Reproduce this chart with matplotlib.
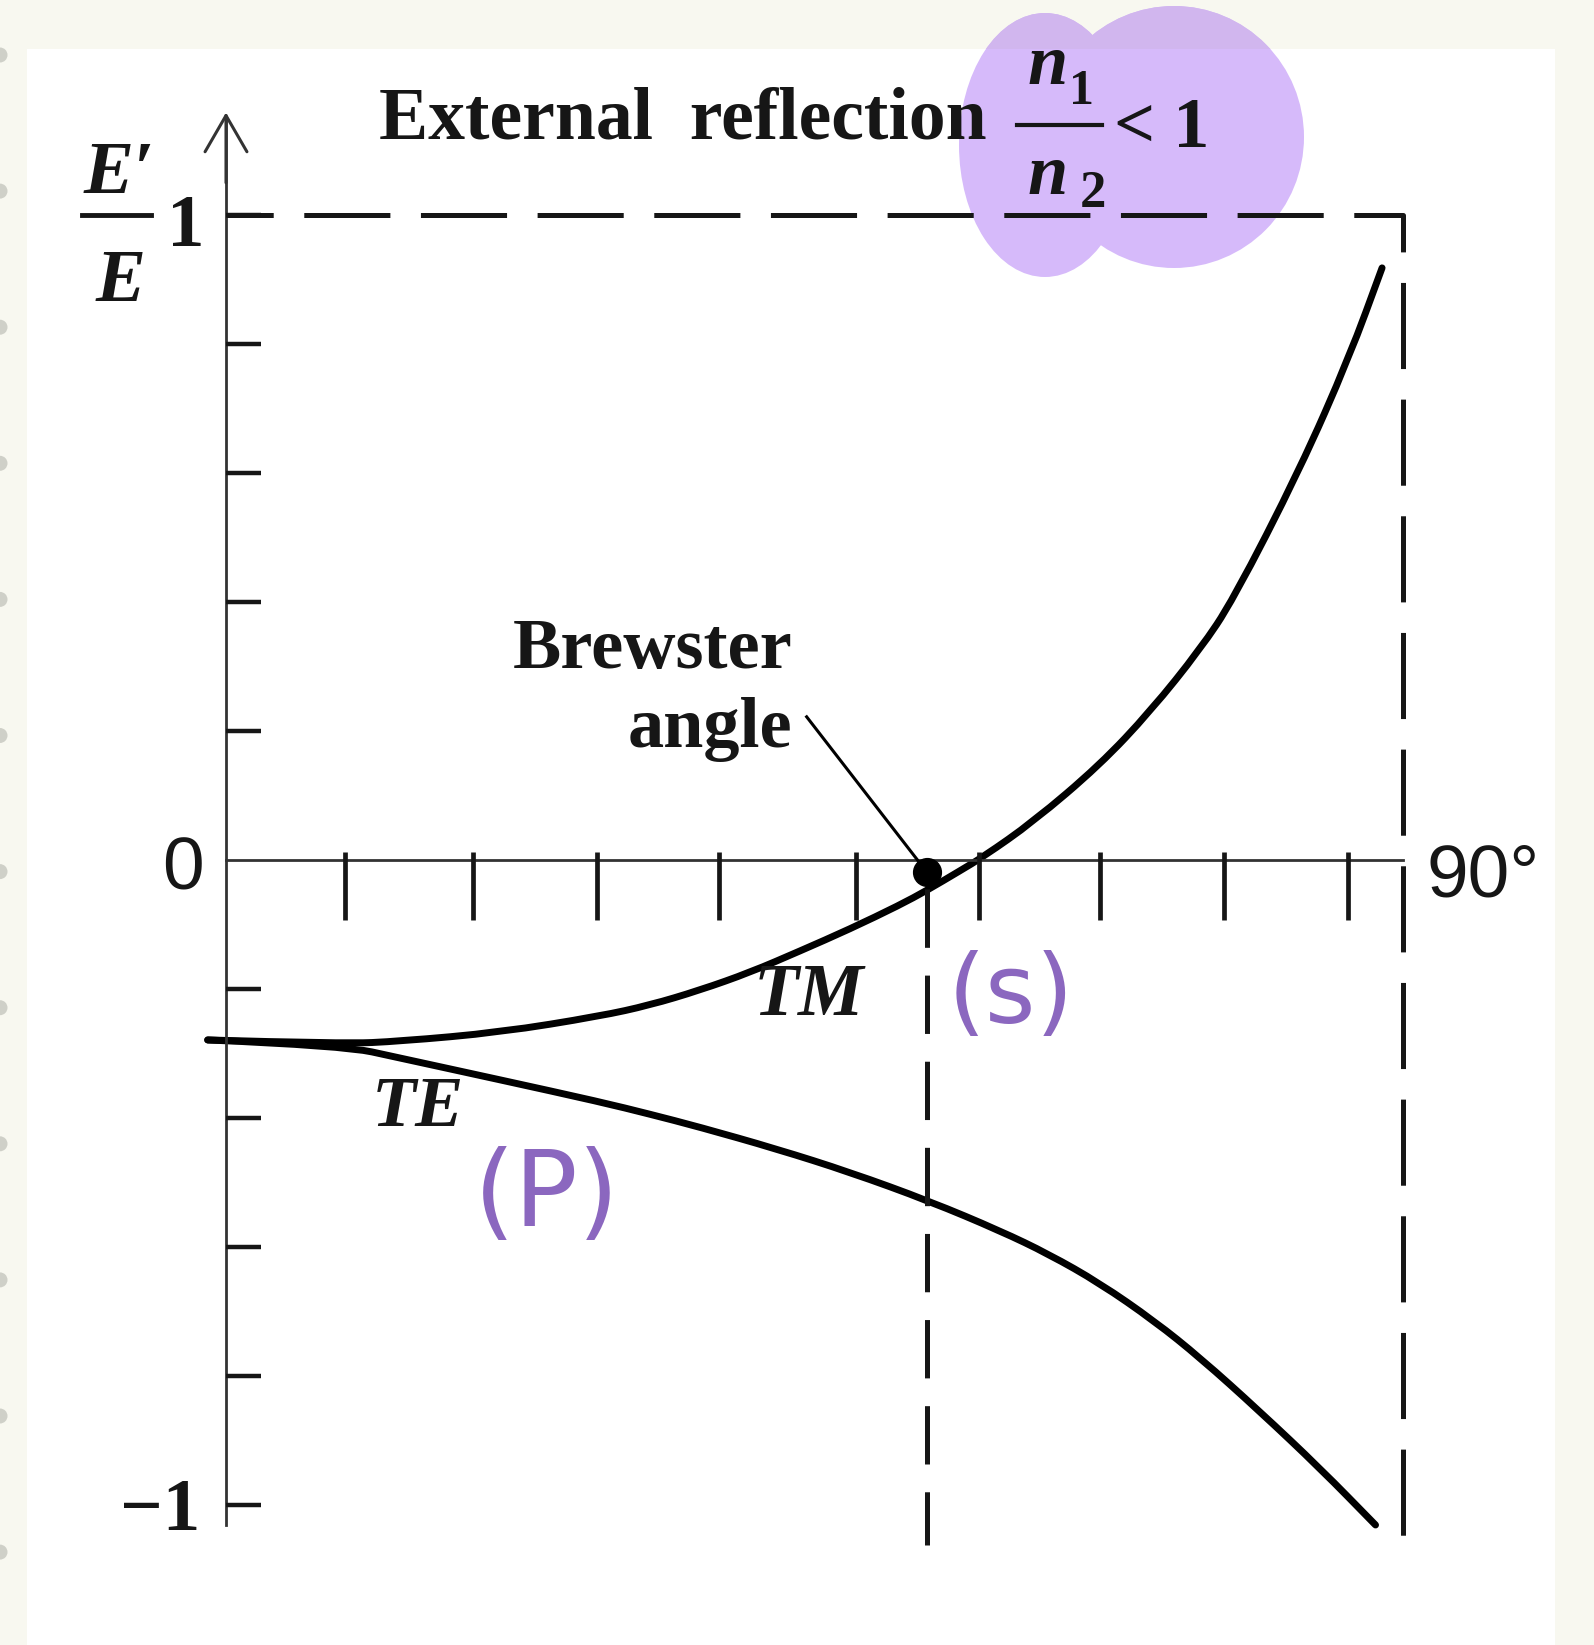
import matplotlib
matplotlib.use("Agg")
import matplotlib.pyplot as plt
from matplotlib.patches import Rectangle, Ellipse, PathPatch
from matplotlib.path import Path

plt.rcParams['lines.scale_dashes'] = False

# reflection amplitude E'/E against angle of incidence (degrees), n1/n2 < 1
tm_angle = [-1.4, 9.0, 13.3, 21.0, 28.6, 32.4, 36.2, 40.1, 43.9, 47.7, 51.5,
            53.6, 56.1, 57.9, 61.7, 66.8, 70.7, 74.5, 77.0, 82.1, 85.9, 88.4]
tm_ratio = [-0.279, -0.285, -0.281, -0.267, -0.242, -0.225, -0.202, -0.174,
            -0.141, -0.107, -0.070, -0.047, -0.017, 0.005, 0.059, 0.147,
            0.231, 0.327, 0.403, 0.605, 0.780, 0.918]

te_angle = [-1.4, 9.0, 13.3, 21.0, 28.6, 32.4, 36.2, 42.1, 47.7, 53.8, 59.2,
            62.9, 66.8, 71.0, 74.5, 79.0, 83.7, 87.9]
te_ratio = [-0.279, -0.288, -0.307, -0.341, -0.375, -0.394, -0.414, -0.448,
            -0.484, -0.529, -0.575, -0.611, -0.656, -0.715, -0.772, -0.854,
            -0.944, -1.031]

brewster_angle = 53.6
brewster_ratio = -0.019
grazing_angle = 90

x_ticks = [9.1, 18.9, 28.4, 37.7, 48.2, 57.6, 66.8, 76.3, 85.8]
y_ticks = [1, 0.8, 0.6, 0.4, 0.2, -0.2, -0.4, -0.6, -0.8, -1]

W, H = 1594, 1645
INK = '#161616'
PURPLE = '#8b67bf'
SERIF = ['Liberation Serif', 'DejaVu Serif']
SANS = ['Liberation Sans', 'DejaVu Sans']


def curve_patch(xs, ys, **kw):
    # quadratic bezier through the midpoints, so the pen line has no corners
    verts = [(xs[0], ys[0])]
    codes = [Path.MOVETO]
    for i in range(1, len(xs) - 1):
        verts += [(xs[i], ys[i]), ((xs[i] + xs[i + 1]) / 2, (ys[i] + ys[i + 1]) / 2)]
        codes += [Path.CURVE3, Path.CURVE3]
    verts.append((xs[-1], ys[-1]))
    codes.append(Path.LINETO)
    return PathPatch(Path(verts, codes), fill=False, **kw)


fig = plt.figure(figsize=(W / 100, H / 100), dpi=100)
fig.patch.set_facecolor('#f8f8f0')

# white page with the punched holes of the notebook along the left edge
page = Rectangle((27 / W, 0), 1528 / W, 1 - 49 / H, transform=fig.transFigure,
                 facecolor='white', edgecolor='none', zorder=0.5)
fig.patches.append(page)
for k in range(12):
    yc = 55 + 136.1 * k
    fig.patches.append(Ellipse((0, 1 - yc / H), 15 / W, 15 / H,
                               transform=fig.transFigure, facecolor='#cfd0c8',
                               edgecolor='none', zorder=0.6))

# highlighter blob over the index ratio
strip = Rectangle((0, 1 - 49 / H), 1, 49 / H, transform=fig.transFigure)
for (cx, cy, ew, eh) in [(1045, 145, 172, 264), (1174, 137, 260, 262)]:
    blob = Ellipse((cx / W, 1 - cy / H), ew / W, eh / H, transform=fig.transFigure,
                   facecolor='#d6bafa', edgecolor='none', zorder=1)
    fig.patches.append(blob)
    top = Ellipse((cx / W, 1 - cy / H), ew / W, eh / H, transform=fig.transFigure,
                  facecolor='#d1b6ee', edgecolor='none', zorder=1.1)
    top.set_clip_path(strip)
    fig.patches.append(top)

ax = fig.add_axes([226 / W, 1 - 1505 / H, 1177 / W, 1290 / H])
ax.set_xlim(0, 90)
ax.set_ylim(-1, 1)
ax.axis('off')
ax.set_zorder(2)
ax.patch.set_visible(False)

# axes drawn by hand
ax.plot([0, grazing_angle], [0, 0], color='#333333', lw=2, clip_on=False)
ax.plot([0, 0], [-1.031, 1.15], color='#333333', lw=2, clip_on=False)
ax.annotate('', xy=(0, 1.159), xytext=(0, 1.05),
            arrowprops=dict(arrowstyle='->,head_length=0.45,head_width=0.26',
                            mutation_scale=58, lw=2.2, color='#333333',
                            shrinkA=0, shrinkB=0),
            annotation_clip=False)
for v in y_ticks:
    ax.plot([0, 2.7], [v, v], color=INK, lw=3.2, solid_capstyle='butt', clip_on=False)
for a in x_ticks:
    ax.plot([a, a], [0.012, -0.093], color=INK, lw=3.4, solid_capstyle='butt',
            clip_on=False)

# limits |E'/E| = 1 and grazing incidence
ax.plot([0, grazing_angle, grazing_angle], [1, 1, -1.074], color=INK, lw=3.6,
        ls=(28, (62, 22)), clip_on=False)
ax.plot([brewster_angle, brewster_angle], [-0.045, -1.062], color=INK, lw=3.6,
        ls=(0, (42, 20)), clip_on=False)

ax.add_patch(curve_patch(tm_angle, tm_ratio, edgecolor='black', lw=5,
                         capstyle='round', clip_on=False))
ax.add_patch(curve_patch(te_angle, te_ratio, edgecolor='black', lw=5,
                         capstyle='round', clip_on=False))
ax.plot(brewster_angle, brewster_ratio, 'o', color='black', ms=20, clip_on=False)
ax.plot([44.4, brewster_angle], [0.222, brewster_ratio], color='black', lw=2.2,
        clip_on=False)

# labels
ax.text(11.7, 1.119, "External  reflection", family=SERIF, weight='bold',
        fontsize=53, ha='left', va='baseline', color=INK)
ax.text(62.8, 1.231, "n", family=SERIF, weight='bold', style='italic',
        fontsize=52, ha='center', va='center', color=INK)
ax.text(65.4, 1.190, "1", family=SERIF, weight='bold', fontsize=36,
        ha='center', va='center', color=INK)
ax.plot([60.5, 67.0], [1.140, 1.140], color=INK, lw=3, clip_on=False)
ax.text(62.8, 1.059, "n", family=SERIF, weight='bold', style='italic',
        fontsize=52, ha='center', va='center', color=INK)
ax.text(66.3, 1.033, "2", family=SERIF, weight='bold', fontsize=38,
        ha='center', va='center', color=INK)
ax.text(67.9, 1.105, "< 1", family=SERIF, weight='bold', fontsize=52,
        ha='left', va='baseline', color=INK)

ax.text(-8.2, 1.034, "E\u2032", family=SERIF, weight='bold', style='italic',
        fontsize=54, ha='center', va='baseline', color=INK)
ax.plot([-11.0, -5.7], [1.0, 1.0], color=INK, lw=3.5, clip_on=False)
ax.text(-8.1, 0.866, "E", family=SERIF, weight='bold', style='italic',
        fontsize=54, ha='center', va='baseline', color=INK)
ax.text(-3.1, 0.952, "1", family=SERIF, weight='bold', fontsize=54,
        ha='center', va='baseline', color=INK)
ax.text(-3.3, -0.045, "0", family=SANS, fontsize=54, ha='center', va='baseline',
        color=INK)
ax.text(-2.0, -1.038, "\u22121", family=SERIF, weight='bold', fontsize=54,
        ha='right', va='baseline', color=INK)
ax.text(91.8, -0.057, "90\u00b0", family=SANS, fontsize=54, ha='left',
        va='baseline', color=INK)

ax.text(43.3, 0.298, "Brewster", family=SERIF, weight='bold', fontsize=52,
        ha='right', va='baseline', color=INK)
ax.text(43.3, 0.175, "angle", family=SERIF, weight='bold', fontsize=52,
        ha='right', va='baseline', color=INK)
ax.text(44.6, -0.212, "TM", family=SERIF, weight='bold', style='italic',
        fontsize=53, ha='center', va='center', color=INK)
ax.text(14.7, -0.386, "TE", family=SERIF, weight='bold', style='italic',
        fontsize=52, ha='center', va='center', color=INK)

# pencil notes for the polarisations
ax.text(60.0, -0.212, "(s)", family=['DejaVu Sans'], fontsize=70, ha='center',
        va='center', color=PURPLE)
ax.text(24.5, -0.522, "(P)", family=['DejaVu Sans'], fontsize=76, ha='center',
        va='center', color=PURPLE)

fig.savefig("out.png", dpi=100, facecolor=fig.get_facecolor())
